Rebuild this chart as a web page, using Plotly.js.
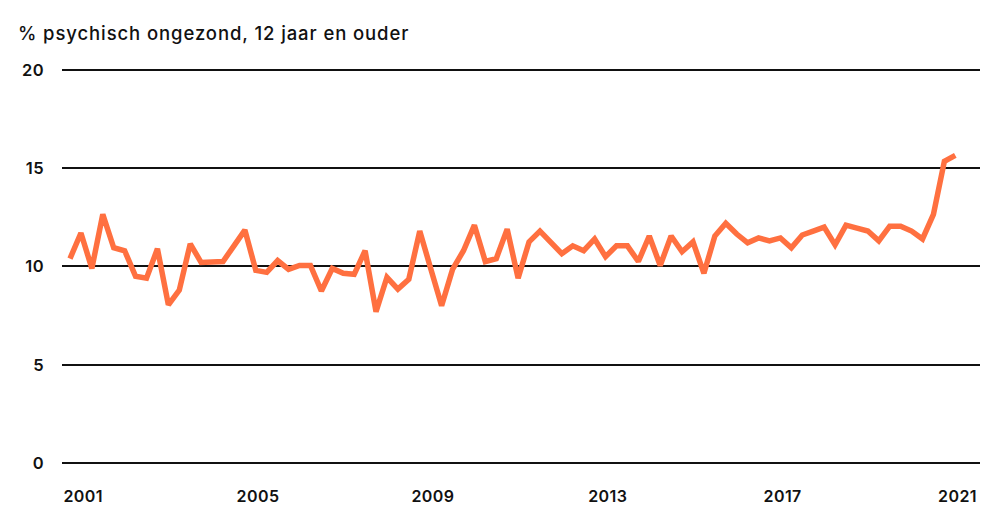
<!DOCTYPE html>
<html>
<head>
<meta charset="utf-8">
<script src="https://cdn.plot.ly/plotly-3.0.1.min.js"></script>
<style>
  html, body { margin: 0; padding: 0; background: #fff; }
  #chart { width: 1000px; height: 528px; }
  #chart .gtitle { letter-spacing: 0.9px; }
  #chart .xtick text, #chart .ytick text { letter-spacing: 0.4px; }
</style>
</head>
<body>
<div id="chart"></div>
<script>
// Quarterly data, 2001 Q1 .. 2021 Q2
const startYear = 2001;
const values = [
  10.4, 11.7, 9.9, 12.65, 10.95, 10.8, 9.5, 9.4,
  10.9, 8.05, 8.8, 11.15, 10.2, 10.25, 10.25, 11.05,
  11.85, 9.8, 9.7, 10.3, 9.85, 10.05, 10.05, 8.75,
  9.9, 9.65, 9.6, 10.8, 7.7, 9.45, 8.85, 9.35,
  11.8, 9.9, 8.0, 9.85, 10.8, 12.1, 10.25, 10.4,
  11.9, 9.4, 11.25, 11.8, 11.25, 10.65, 11.05, 10.8,
  11.4, 10.5, 11.05, 11.05, 10.25, 11.55, 10.05, 11.55,
  10.75, 11.25, 9.65, 11.55, 12.2, 11.65, 11.2, 11.45,
  11.3, 11.45, 10.95, 11.6, 11.8, 12.0, 11.1, 12.1,
  11.95, 11.8, 11.3, 12.05, 12.05, 11.8, 11.4, 12.65,
  15.35, 15.65
];
const tickYears = ['2001', '2005', '2009', '2013', '2017', '2021'];
const yTicks = [0, 5, 10, 15, 20];
const titleText = '% psychisch ongezond, 12 jaar en ouder';

const xs = values.map((v, i) => startYear + i / 4);
const tickPos = tickYears.map(y => Number(y) + 0.3);

const fontFam = 'Inter, "Open Sans", "DejaVu Sans", sans-serif';

Plotly.newPlot('chart', [{
  type: 'scatter',
  mode: 'lines',
  x: xs,
  y: values,
  line: { color: '#ff7040', width: 5.5 },
  hoverinfo: 'skip'
}], {
  width: 1000,
  height: 528,
  margin: { l: 62, r: 20, t: 64, b: 65 },
  paper_bgcolor: '#ffffff',
  plot_bgcolor: '#ffffff',
  showlegend: false,
  title: {
    text: titleText,
    xref: 'container', yref: 'container',
    x: 0.018, xanchor: 'left',
    y: 1 - 34 / 528, yanchor: 'middle',
    font: { family: fontFam, size: 18.5, color: '#111111', weight: 500 }
  },
  xaxis: {
    range: [2000.817, 2021.815],
    tickvals: tickPos,
    ticktext: tickYears,
    showgrid: false,
    zeroline: false,
    showline: false,
    ticks: '',
    ticklabelstandoff: 22,
    tickfont: { family: fontFam, size: 16, color: '#111111', weight: 600 },
    fixedrange: true
  },
  yaxis: {
    range: [0, 20.3],
    tickvals: yTicks,
    ticktext: yTicks.map(String),
    showgrid: true,
    gridcolor: '#111111',
    gridwidth: 2,
    zeroline: true,
    zerolinecolor: '#111111',
    zerolinewidth: 2,
    showline: false,
    ticks: '',
    ticklabelstandoff: 17,
    tickfont: { family: fontFam, size: 16.5, color: '#111111', weight: 600 },
    fixedrange: true
  }
}, { displayModeBar: false, staticPlot: true });
</script>
</body>
</html>
